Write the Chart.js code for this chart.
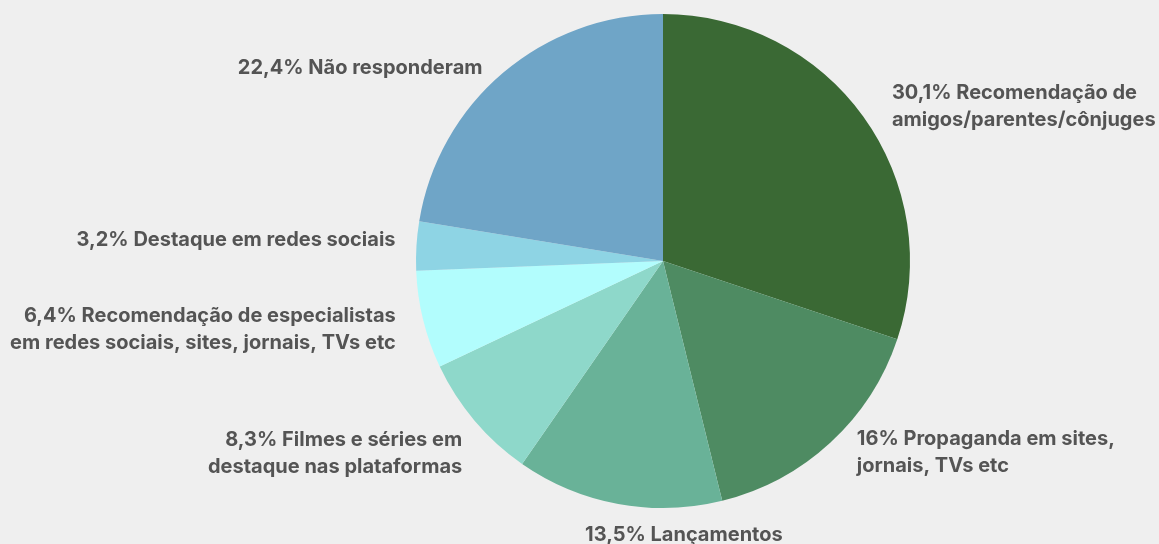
<!DOCTYPE html>
<html lang="pt-BR">
<head>
<meta charset="utf-8">
<script src="https://cdn.jsdelivr.net/npm/chart.js@4/dist/chart.umd.min.js"></script>
<style>
  html, body { margin: 0; padding: 0; background: #efefef; }
  #wrap { width: 1159px; height: 544px; }
</style>
</head>
<body>
<div id="wrap"><canvas id="pie"></canvas></div>
<script>
// Fatias no sentido horário a partir do topo
const categorias = [
  ['Recomendação de', 'amigos/parentes/cônjuges'],
  ['Propaganda em sites,', 'jornais, TVs etc'],
  ['Lançamentos'],
  ['Filmes e séries em', 'destaque nas plataformas'],
  ['Recomendação de especialistas', 'em redes sociais, sites, jornais, TVs etc'],
  ['Destaque em redes sociais'],
  ['Não responderam']
];
const percentuais = [30.1, 16, 13.5, 8.3, 6.4, 3.2, 22.4];
const cores = ['#3a6934', '#4e8b62', '#69b298', '#8ed8ca', '#b2fdfd', '#8ed4e4', '#6fa5c7'];

const fmt = v => v.toLocaleString('pt-BR', { maximumFractionDigits: 1 }) + '%';

// rótulos externos com texto em duas linhas
const rotulosExternos = {
  id: 'rotulosExternos',
  afterDatasetsDraw(chart, args, opts) {
    const ctx = chart.ctx;
    const meta = chart.getDatasetMeta(0);
    ctx.save();
    ctx.font = 'bold 20px Inter, "Noto Sans", sans-serif';
    ctx.fillStyle = '#545454';
    const lh = 27;
    meta.data.forEach((arc, i) => {
      const mid = (arc.startAngle + arc.endAngle) / 2;
      const r = arc.outerRadius + opts.gap;
      const cos = Math.cos(mid), sin = Math.sin(mid);
      const nudge = opts.nudge[i] || [0, 0];
      let x = arc.x + cos * r + nudge[0];
      let y = arc.y + sin * r + nudge[1];
      const linhas = categorias[i].slice();
      linhas[0] = fmt(percentuais[i]) + ' ' + linhas[0];
      let align = 'center';
      if (cos > 0.3) align = 'left';
      else if (cos < -0.3) align = 'right';
      ctx.textAlign = align;
      ctx.textBaseline = 'middle';
      let top = align === 'center' ? y + lh / 2 : y - (linhas.length - 1) * lh / 2;
      linhas.forEach((t, k) => ctx.fillText(t, x, top + k * lh));
    });
    ctx.restore();
  }
};

new Chart(document.getElementById('pie'), {
  type: 'pie',
  data: {
    labels: categorias.map(c => c.join(' ')),
    datasets: [{
      data: percentuais,
      backgroundColor: cores,
      borderWidth: 0
    }]
  },
  options: {
    responsive: true,
    maintainAspectRatio: false,
    animation: false,
    layout: { padding: { left: 167, right: 0, top: 14, bottom: 36 } },
    plugins: {
      legend: { display: false },
      tooltip: { enabled: false },
      rotulosExternos: {
        gap: 24,
        nudge: [[9, 4], [10, -8], [70, -6], [6, 17], [-4, 4], [3, -4], [-5, 13]]
      }
    }
  },
  plugins: [rotulosExternos]
});
</script>
</body>
</html>
